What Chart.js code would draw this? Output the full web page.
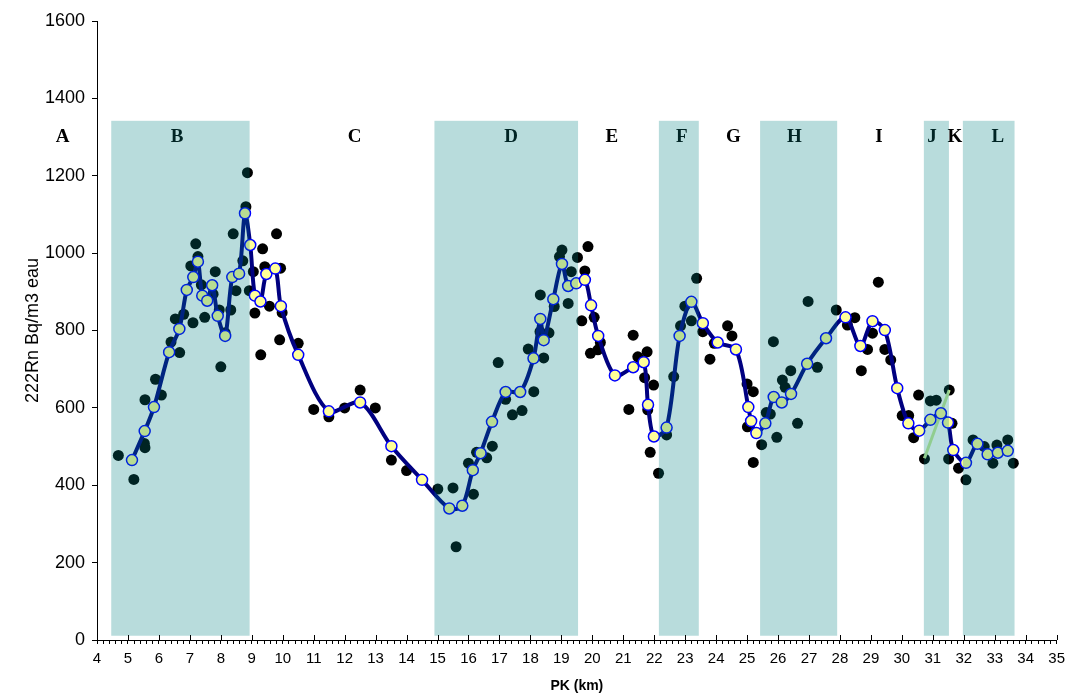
<!DOCTYPE html>
<html>
<head>
<meta charset="utf-8">
<script src="https://cdn.jsdelivr.net/npm/chart.js@4"></script>
<style>
  body { margin: 0; background: #fff; }
</style>
</head>
<body>
<canvas id="radon" width="1071" height="697"></canvas>
<script>
// raw measurements (black dots)
const rawX = [4.69, 5.19, 5.53, 5.55, 5.55, 5.89, 6.08, 6.39, 6.67, 6.53,
  6.80, 7.10, 7.03, 7.19, 7.26, 7.37, 7.48, 7.75, 7.82, 7.95,
  8.32, 8.00, 8.14, 8.40, 8.49, 8.71, 8.86, 8.81, 8.92, 9.05,
  9.10, 9.29, 9.35, 9.57, 9.80, 9.90, 9.98, 9.42, 9.93, 10.50,
  11.00, 11.49, 12.00, 12.50, 12.99, 13.51, 14.00, 15.01, 15.50, 15.60,
  16.16, 16.00, 16.26, 16.59, 16.77, 16.96, 17.20, 17.42, 17.73, 18.11,
  17.93, 18.31, 18.60, 18.43, 18.32, 18.77, 19.22, 18.94, 19.02, 19.32,
  19.52, 19.86, 19.76, 19.66, 20.06, 19.94, 20.26, 20.18, 21.18, 21.32,
  21.47, 21.77, 21.69, 21.98, 21.79, 21.87, 22.14, 22.40, 22.63, 22.85,
  22.99, 23.20, 23.37, 23.57, 23.80, 23.94, 24.37, 24.51, 25.00, 25.20,
  25.01, 25.20, 25.47, 25.62, 25.75, 25.85, 25.96, 26.14, 26.23, 26.41,
  26.63, 26.97, 27.27, 27.88, 28.24, 28.48, 28.69, 28.89, 29.05, 29.24,
  29.45, 29.64, 30.01, 30.22, 30.38, 30.54, 30.73, 30.92, 31.11, 31.53,
  31.62, 31.51, 31.83, 32.07, 32.30, 32.66, 32.94, 33.07, 33.42, 33.60];
const rawY = [477, 415, 508, 497, 621, 674, 633, 770, 743, 830,
  842, 820, 967, 1024, 991, 918, 834, 894, 952, 853,
  853, 706, 794, 1050, 903, 980, 1208, 1120, 903, 952,
  845, 737, 1011, 863, 1050, 776, 846, 965, 961, 767,
  596, 577, 600, 646, 600, 465, 438, 390, 393, 241,
  377, 457, 485, 471, 501, 717, 622, 582, 593, 642,
  752, 797, 794, 729, 892, 862, 870, 991, 1008, 952,
  989, 1017, 954, 825, 834, 741, 769, 750, 596, 788,
  732, 745, 678, 659, 595, 485, 431, 530, 681, 812,
  863, 825, 935, 797, 726, 767, 812, 786, 662, 642,
  551, 459, 505, 588, 584, 771, 524, 672, 653, 696,
  560, 875, 705, 853, 814, 833, 696, 751, 793, 925,
  751, 724, 580, 580, 523, 633, 468, 618, 620, 646,
  560, 468, 444, 414, 517, 500, 457, 504, 517, 457];

// smoothed profile (navy line, yellow markers)
const avgX = [5.13, 5.54, 5.84, 6.33, 6.66, 6.90, 7.11, 7.26, 7.40, 7.56,
  7.72, 7.90, 8.14, 8.37, 8.59, 8.78, 8.95, 9.10, 9.28, 9.47,
  9.76, 9.94, 10.50, 11.49, 12.50, 13.51, 14.50, 15.38, 15.80, 16.14,
  16.39, 16.76, 17.20, 17.67, 18.10, 18.32, 18.43, 18.74, 19.02, 19.22,
  19.48, 19.76, 19.96, 20.19, 20.73, 21.32, 21.66, 21.80, 21.99, 22.40,
  22.82, 23.20, 23.57, 24.05, 24.64, 25.04, 25.13, 25.30, 25.59, 25.86,
  26.12, 26.42, 26.94, 27.55, 28.18, 28.66, 29.05, 29.45, 29.85, 30.21,
  30.56, 30.92, 31.26, 31.49, 31.66, 32.07, 32.44, 32.77, 33.10, 33.42];
const avgY = [465, 540, 602, 744, 804, 905, 938, 978, 890, 877,
  917, 838, 786, 938, 947, 1103, 1021, 890, 875, 946,
  960, 863, 737, 591, 614, 501, 414, 340, 347, 439,
  483, 564, 641, 641, 728, 830, 775, 881, 972, 915,
  922, 931, 865, 786, 684, 705, 718, 608, 526, 549,
  786, 874, 819, 769, 751, 602, 566, 535, 560, 628,
  614, 636, 714, 780, 834, 760, 824, 801, 651, 560,
  541, 569, 586, 562, 491, 458, 507, 480, 484, 489];

// link across zone J
const linkX = [30.73, 31.53];
const linkY = [470, 646];

// zones
const zoneNames = ["A", "B", "C", "D", "E", "F", "G", "H", "I", "J", "K", "L"];
const zoneLabelX = [2.89, 6.59, 12.32, 17.38, 20.63, 22.89, 24.56, 26.53, 29.26, 30.97, 31.71, 33.10];
const zoneLabelY = 1300;
const bandStart = [4.46, 14.90, 22.15, 25.42, 30.71, 31.97];
const bandEnd = [8.93, 19.54, 23.44, 27.91, 31.52, 33.64];
const bandTop = 1342;
const bandBottom = 11;

const xTicksMajor = [4, 5, 6, 7, 8, 9, 10, 11, 12, 13, 14, 15, 16, 17, 18, 19, 20,
  21, 22, 23, 24, 25, 26, 27, 28, 29, 30, 31, 32, 33, 34, 35];

const toPoints = (xs, ys) => xs.map((x, i) => ({ x, y: ys[i] }));

const zonesPlugin = {
  id: "zones",
  afterDatasetsDraw(chart) {
    const { ctx, scales: { x, y } } = chart;
    ctx.save();
    ctx.font = 'bold 19px "Liberation Serif"';
    ctx.fillStyle = "#000";
    ctx.textAlign = "center";
    ctx.textBaseline = "middle";
    zoneNames.forEach((n, i) => {
      ctx.fillText(n, x.getPixelForValue(zoneLabelX[i]), y.getPixelForValue(zoneLabelY));
    });
    ctx.fillStyle = "rgba(0,128,128,0.28)";
    const yT = y.getPixelForValue(bandTop);
    const yB = y.getPixelForValue(bandBottom);
    bandStart.forEach((s, i) => {
      const x0 = x.getPixelForValue(s);
      const x1 = x.getPixelForValue(bandEnd[i]);
      ctx.fillRect(x0, yT, x1 - x0, yB - yT);
    });
    ctx.restore();
  },
  afterDraw(chart) {
    // major ticks cross the axis
    const { ctx, scales: { x }, chartArea } = chart;
    ctx.save();
    ctx.strokeStyle = "#000";
    ctx.lineWidth = 1;
    ctx.beginPath();
    xTicksMajor.forEach((v) => {
      const px = Math.round(x.getPixelForValue(v)) + 0.5;
      ctx.moveTo(px, chartArea.bottom);
      ctx.lineTo(px, chartArea.bottom - 5);
    });
    ctx.stroke();
    ctx.restore();
  },
};

new Chart(document.getElementById("radon"), {
  type: "scatter",
  data: {
    datasets: [
      {
        label: "moyenne",
        data: toPoints(avgX, avgY),
        showLine: true,
        borderColor: "#000080",
        borderWidth: 4,
        tension: 0.3,
        pointRadius: 5.5,
        pointBorderWidth: 1.5,
        pointBorderColor: "#0000ff",
        pointBackgroundColor: "#ffff99",
        order: 1,
      },
      {
        label: "lien",
        data: toPoints(linkX, linkY),
        showLine: true,
        borderColor: "rgb(200,235,150)",
        borderWidth: 3,
        pointRadius: 0,
        order: 2,
      },
      {
        label: "mesures",
        data: toPoints(rawX, rawY),
        pointRadius: 5.5,
        pointBorderWidth: 0,
        pointBackgroundColor: "#000",
        order: 3,
      },
    ],
  },
  options: {
    responsive: false,
    animation: false,
    layout: { padding: { top: 21, right: 11, left: 0, bottom: 0 } },
    plugins: { legend: { display: false }, tooltip: { enabled: false } },
    scales: {
      x: {
        type: "linear",
        min: 4,
        max: 35,
        afterFit: (s) => { s.height = 57; },
        border: { color: "#000", width: 1 },
        grid: { drawOnChartArea: false, tickLength: 4, color: "#000" },
        ticks: {
          stepSize: 0.2,
          autoSkip: false,
          maxRotation: 0,
          padding: 6,
          color: "#000",
          font: { family: "Liberation Sans", size: 15 },
          callback: (v) => (Math.abs(v - Math.round(v)) < 1e-6 ? String(Math.round(v)) : ""),
        },
        title: {
          display: true,
          text: "PK (km)",
          color: "#000",
          font: { family: "Liberation Sans", size: 14, weight: "bold" },
          padding: { top: 0, bottom: 2 },
        },
      },
      y: {
        min: 0,
        max: 1600,
        afterFit: (s) => { s.width = 97; },
        border: { color: "#000", width: 1 },
        grid: { drawOnChartArea: false, tickLength: 5, color: "#000" },
        ticks: {
          stepSize: 200,
          padding: 7,
          color: "#000",
          font: { family: "Liberation Sans", size: 18 },
          callback: (v) => String(v),
        },
        title: {
          display: true,
          text: "222Rn Bq/m3 eau",
          color: "#000",
          font: { family: "Liberation Sans", size: 18 },
          padding: { top: 22, bottom: 0 },
        },
      },
    },
  },
  plugins: [zonesPlugin],
});
</script>
</body>
</html>
